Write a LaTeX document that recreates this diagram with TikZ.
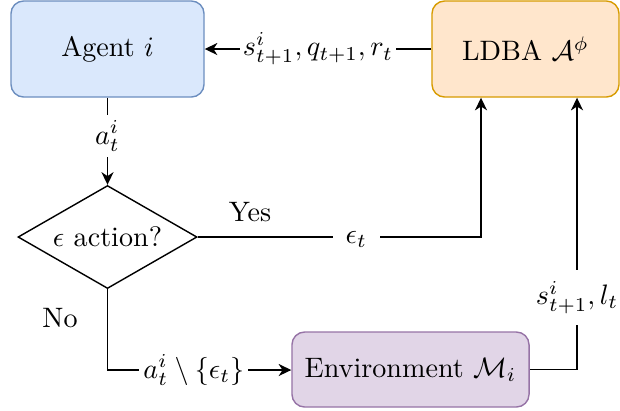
\documentclass[tikz,border=0pt]{standalone}
\usepackage{amsmath,amssymb}
\usetikzlibrary{shapes.geometric,arrows.meta}
\definecolor{agentfill}{HTML}{DAE8FC}
\definecolor{agentdraw}{HTML}{6C8EBF}
\definecolor{ldbafill}{HTML}{FFE6CC}
\definecolor{ldbadraw}{HTML}{D79B00}
\definecolor{envfill}{HTML}{E1D5E7}
\definecolor{envdraw}{HTML}{9673A6}
\tikzset{
  rbox/.style={draw, rounded corners=4.5pt, line width=0.5pt, align=center, inner sep=0pt},
  dec/.style={draw, diamond, aspect=1.74, line width=0.5pt, minimum width=2.2375cm, minimum height=1.2875cm, inner sep=0pt},
  arr/.style={line width=0.5pt, -{Stealth[length=4.5pt,width=4.3pt,inset=1.4pt]}},
  lbl/.style={fill=white, inner xsep=2pt, inner ysep=2pt},
  plain/.style={inner sep=1pt}
}
\begin{document}
\begin{tikzpicture}[x=0.0125cm, y=-0.0125cm]
\useasboundingbox (0,0) rectangle (620,410);
\node[rbox, fill=agentfill, draw=agentdraw, minimum width=2.4125cm, minimum height=1.2cm] (agent) at (107.5,49) {Agent $i$};
\node[rbox, fill=ldbafill, draw=ldbadraw, minimum width=2.3375cm, minimum height=1.2cm] (ldba) at (525.5,49) {LDBA $\mathcal{A}^{\phi}$};
\node[rbox, fill=envfill, draw=envdraw, minimum width=2.9625cm, minimum height=0.9375cm] (env) at (410.5,369.5) {Environment $\mathcal{M}_i$};
\node[dec] (dia) at (107.5,237) {$\epsilon$ action?};

\coordinate (c1) at (481,237);
\coordinate (c2) at (107.5,370);
\coordinate (c3) at (577,369.5);

% agent -> diamond
\draw[arr] (agent.south) -- (dia.north) node[lbl, pos=0.44] {$a^i_t$};
% ldba -> agent
\draw[arr] (ldba.west) -- (agent.east) node[lbl, inner xsep=1pt, midway] {$s^i_{t+1}, q_{t+1}, r_t$};
% yes
\draw[arr] (dia.east) -- (c1) node[lbl, inner xsep=4.5pt, pos=0.56, yshift=-1pt] {$\epsilon_t$} -- (c1 |- ldba.south);
\node[plain] (yes) at (250,212) {Yes};
% no
\draw[arr] (dia.south) -- (c2) -- (env.west |- c2) node[lbl, inner xsep=1.5pt, pos=0.47] {$a^i_t \setminus \{\epsilon_t\}$};
\node[plain] (no) at (60,318) {No};
% env -> ldba
\draw[arr] (env.east |- c3) -- (c3) -- (c3 |- ldba.south) node[lbl, inner ysep=4pt, pos=0.265] {$s^i_{t+1}, l_t$};
\end{tikzpicture}
\end{document}
